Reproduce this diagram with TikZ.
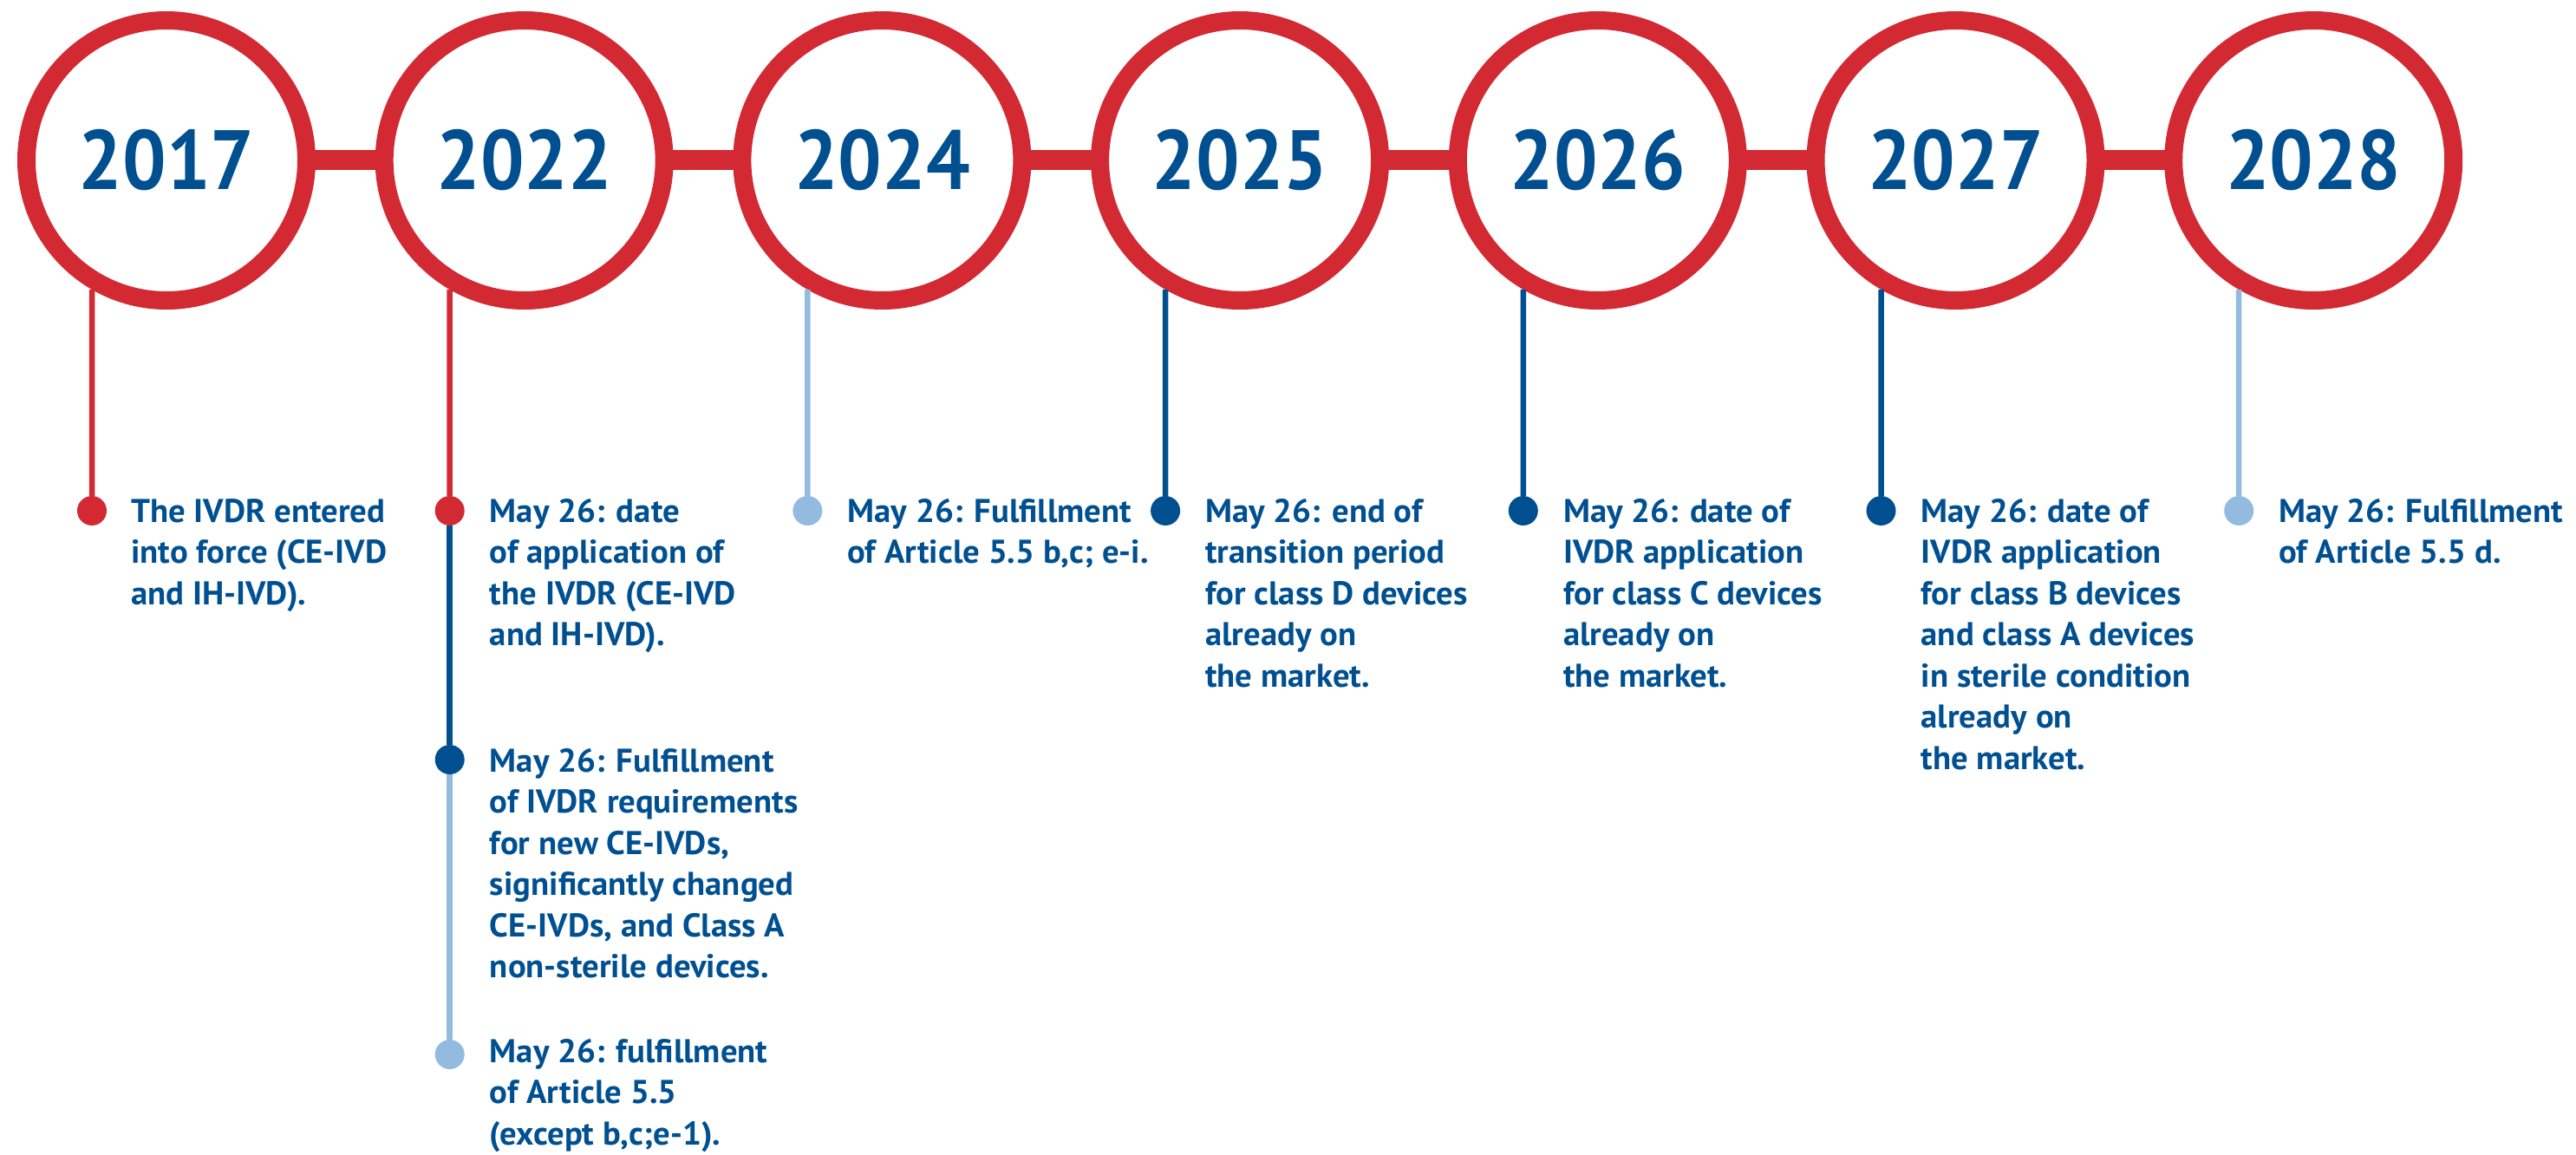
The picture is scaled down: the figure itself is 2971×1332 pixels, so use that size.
\documentclass[tikz,border=0pt]{standalone}
\usepackage{fontspec}
\newfontfamily\yearfont{PT Sans}[FakeStretch=0.92]
\newfontfamily\bodyfont{PT Sans}[FakeStretch=1.02]
\definecolor{ivdred}{RGB}{211,41,51}
\definecolor{ivdblue}{RGB}{0,80,145}
\definecolor{ivdlight}{RGB}{147,187,224}
\begin{document}
\begin{tikzpicture}[x=1pt,y=-1pt,
  yearring/.style={circle, draw=ivdred, fill=white, line width=21pt, minimum size=323pt, inner sep=0pt, text=ivdblue, font=\yearfont\bfseries\fontsize{97}{97}\selectfont},
  bar/.style={draw=ivdred, line width=23pt, shorten <=-2pt, shorten >=-2pt},
  stemline/.style={line width=6.5pt},
  dotnode/.style={circle, inner sep=0pt, minimum size=34pt},
  note/.style={anchor=north west, align=left, inner sep=0pt, text=ivdblue, font=\bodyfont\bfseries\fontsize{38}{47.5}\selectfont, execute at begin node={\rule{0pt}{30pt}}}
]
\useasboundingbox (0,0) rectangle (2971,1332);
% year rings
\node[yearring] (y17) at (192,185) {2017};
\node[yearring] (y22) at (604.7,185) {2022};
\node[yearring] (y24) at (1017.4,185) {2024};
\node[yearring] (y25) at (1430.1,185) {2025};
\node[yearring] (y26) at (1842.8,185) {2026};
\node[yearring] (y27) at (2255.5,185) {2027};
\node[yearring] (y28) at (2668.2,185) {2028};
% bars
\draw[bar] (y17.east) -- (y22.west);
\draw[bar] (y22.east) -- (y24.west);
\draw[bar] (y24.east) -- (y25.west);
\draw[bar] (y25.east) -- (y26.west);
\draw[bar] (y26.east) -- (y27.west);
\draw[bar] (y27.east) -- (y28.west);
% dots
\node[dotnode, fill=ivdred]   (d17)  at (106,589) {};
\node[dotnode, fill=ivdred]   (d22a) at (518.7,589) {};
\node[dotnode, fill=ivdblue]  (d22b) at (518.7,876) {};
\node[dotnode, fill=ivdlight] (d22c) at (518.7,1216) {};
\node[dotnode, fill=ivdlight] (d24)  at (931.4,589) {};
\node[dotnode, fill=ivdblue]  (d25)  at (1344.1,589) {};
\node[dotnode, fill=ivdblue]  (d26)  at (1756.8,589) {};
\node[dotnode, fill=ivdblue]  (d27)  at (2169.5,589) {};
\node[dotnode, fill=ivdlight] (d28)  at (2582.2,589) {};
% stems
\draw[stemline, ivdred]   (y17.-120) -- (d17);
\draw[stemline, ivdred]   (y22.-120) -- (d22a);
\draw[stemline, ivdblue]  (d22a) -- (d22b);
\draw[stemline, ivdlight] (d22b) -- (d22c);
\draw[stemline, ivdlight] (y24.-120) -- (d24);
\draw[stemline, ivdblue]  (y25.-120) -- (d25);
\draw[stemline, ivdblue]  (y26.-120) -- (d26);
\draw[stemline, ivdblue]  (y27.-120) -- (d27);
\draw[stemline, ivdlight] (y28.-120) -- (d28);
% notes (north = first baseline - 30)
\node[note] (t17) at (151,575) {The IVDR entered\\into force (CE-IVD\\and IH-IVD).};
\node[note] (t22a) at (564.7,575) {May 26: date\\of application of\\the IVDR (CE-IVD\\and IH-IVD).};
\node[note] (t22b) at (564.7,863) {May 26: Fulfillment\\of IVDR requirements\\for new CE-IVDs,\\significantly changed\\CE-IVDs, and Class A\\non-sterile devices.};
\node[note] (t22c) at (564.7,1198) {May 26: fulfillment\\of Article 5.5\\(except b,c;e-1).};
\node[note] (t24) at (977.4,575) {May 26: Fulfillment\\of Article 5.5 b,c; e-i.};
\node[note] (t25) at (1390.1,575) {May 26: end of\\transition period\\for class D devices\\already on\\the market.};
\node[note] (t26) at (1802.8,575) {May 26: date of\\IVDR application\\for class C devices\\already on\\the market.};
\node[note] (t27) at (2215.5,575) {May 26: date of\\IVDR application\\for class B devices\\and class A devices\\in sterile condition\\already on\\the market.};
\node[note] (t28) at (2628.2,575) {May 26: Fulfillment\\of Article 5.5 d.};
\end{tikzpicture}
\end{document}
